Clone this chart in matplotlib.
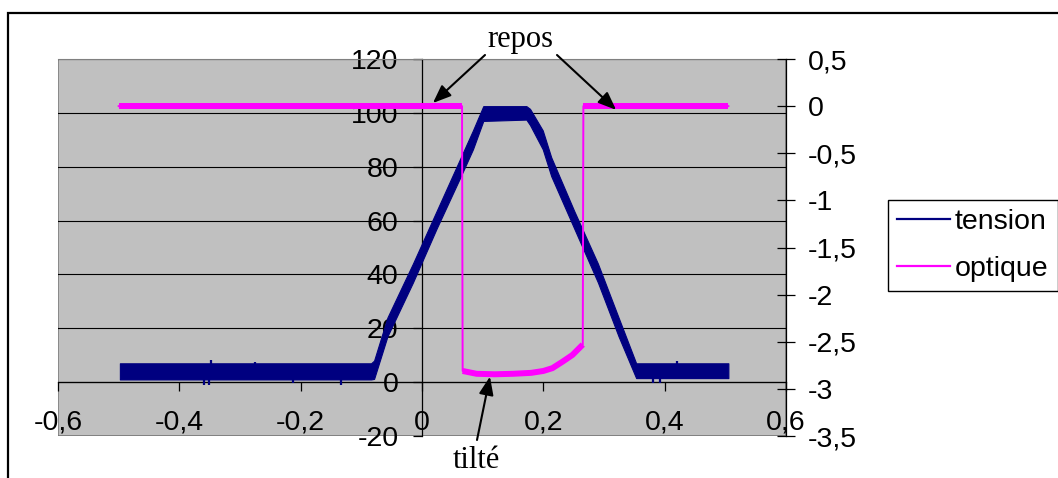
import matplotlib
matplotlib.use("Agg")
import matplotlib.pyplot as plt
from matplotlib.patches import Rectangle
from matplotlib.lines import Line2D

# ---------------- data ----------------
x_ticks = [-0.6, -0.4, -0.2, 0.0, 0.2, 0.4, 0.6]
x_tick_labels = ["-0,6", "-0,4", "-0,2", "0", "0,2", "0,4", "0,6"]
left_ticks = [-20, 0, 20, 40, 60, 80, 100, 120]
left_tick_labels = ["-20", "0", "20", "40", "60", "80", "100", "120"]
right_ticks = [-3.5, -3.0, -2.5, -2.0, -1.5, -1.0, -0.5, 0.0, 0.5]
right_tick_labels = ["-3,5", "-3", "-2,5", "-2", "-1,5", "-1", "-0,5", "0", "0,5"]

# tension (left axis): noisy band, given as lower / upper envelope
tension_x = [-0.498, -0.084, -0.079, -0.057, -0.015, 0.024, 0.064, 0.084, 0.101,
             0.172, 0.178, 0.199, 0.213, 0.251, 0.290, 0.324, 0.353, 0.505]
tension_lo = [1.0, 1.0, 1.2, 17.0, 37.0, 57.0, 76.5, 86.5, 97.0,
              97.5, 95.5, 86.5, 76.5, 57.0, 37.0, 17.0, 1.5, 1.5]
tension_hi = [7.0, 7.0, 8.0, 24.0, 44.0, 63.5, 83.5, 93.5, 102.5,
              102.5, 101.5, 93.5, 83.5, 63.5, 44.0, 24.0, 7.0, 7.0]
# isolated spikes of the tension signal
spike_x = [-0.359, -0.351, -0.348, -0.276, -0.213, -0.134, 0.381, 0.393, 0.420]
spike_lo = [-1.1, -1.1, 4.0, 4.0, -0.5, -1.1, -0.5, -0.5, 4.0]
spike_hi = [4.0, 4.0, 8.4, 7.4, 4.0, 4.0, 4.0, 4.0, 7.9]

# optique (right axis)
optique_x = [-0.5, 0.066, 0.067, 0.09, 0.12, 0.15, 0.18, 0.20, 0.215, 0.232,
             0.248, 0.265, 0.266, 0.505]
optique_y = [0.0, 0.0, -2.81, -2.84, -2.845, -2.84, -2.83, -2.81, -2.78, -2.71,
             -2.64, -2.53, 0.0, 0.0]

series_names = ["tension", "optique"]

# ---------------- style ----------------
NAVY = "#000080"
MAGENTA = "#FF00FF"
plt.rcParams["font.family"] = ["Liberation Sans", "DejaVu Sans"]
plt.rcParams["font.size"] = 20.5

W, H = 1058, 478
fig = plt.figure(figsize=(W / 100, H / 100), dpi=100)
fig.patch.set_facecolor("white")

L, R, T, B = 58, 786, 59, 436
ax = fig.add_axes([L / W, 1 - B / H, (R - L) / W, (B - T) / H])
ax.set_facecolor("#C0C0C0")
ax.set_xlim(-0.6, 0.6)
ax.set_ylim(-20, 120)

# axes crossing at zero
ax.spines["left"].set_position(("data", 0))
ax.spines["bottom"].set_position(("data", 0))
for s in ("left", "bottom"):
    ax.spines[s].set_color("black")
    ax.spines[s].set_linewidth(0.9)
ax.spines["top"].set_color("#808080")
ax.spines["right"].set_visible(False)
ax.add_patch(Rectangle((0, 0), 1, 1, transform=ax.transAxes, fill=False,
                       edgecolor="#808080", lw=1.2, zorder=0.5))

ax.set_xticks(x_ticks)
ax.set_xticklabels(x_tick_labels)
ax.set_yticks(left_ticks)
ax.set_yticklabels(left_tick_labels)
ax.tick_params(axis="x", direction="out", length=6.5, width=0.9, pad=13.5)
ax.tick_params(axis="y", direction="out", length=6.5, width=0.9, pad=10.5)
ax.yaxis.grid(True, color="black", lw=0.8)
ax.set_axisbelow(True)

ax.fill_between(tension_x, tension_lo, tension_hi, color=NAVY, lw=0.8,
                edgecolor=NAVY, zorder=3)
ax.vlines(spike_x, spike_lo, spike_hi, color=NAVY, lw=1.6, zorder=3)

ax2 = ax.twinx()
ax2.set_ylim(-3.5, 0.5)
for s in ("left", "top", "bottom"):
    ax2.spines[s].set_visible(False)
ax2.spines["right"].set_color("black")
ax2.spines["right"].set_linewidth(0.9)
ax2.set_yticks(right_ticks)
ax2.set_yticklabels(right_tick_labels)
ax2.tick_params(axis="y", direction="inout", length=13, width=0.9, pad=9.5)

ax2.plot(optique_x, optique_y, color=MAGENTA, lw=1.4, zorder=3)
ax2.plot(optique_x[0:2], optique_y[0:2], color=MAGENTA, lw=4.3,
         solid_capstyle="butt", zorder=3)
ax2.plot(optique_x[2:12], optique_y[2:12], color=MAGENTA, lw=4.3,
         solid_capstyle="butt", solid_joinstyle="round", zorder=3)
ax2.plot(optique_x[12:], optique_y[12:], color=MAGENTA, lw=4.3,
         solid_capstyle="butt", zorder=3)

# ---------------- annotations ----------------
aprops = dict(arrowstyle="-|>,head_length=0.55,head_width=0.22",
              color="black", lw=1.5, mutation_scale=20, shrinkA=0, shrinkB=0)
ax2.annotate("", xy=(0.018, 0.033), xycoords="data",
             xytext=(485, H - 55), textcoords="figure pixels",
             arrowprops=aprops, annotation_clip=False)
ax2.annotate("", xy=(0.320, -0.04), xycoords="data",
             xytext=(557, H - 55), textcoords="figure pixels",
             arrowprops=aprops, annotation_clip=False)
ax2.annotate("", xy=(0.112, -2.87), xycoords="data",
             xytext=(477, H - 440), textcoords="figure pixels",
             arrowprops=aprops, annotation_clip=False)
fig.text(520 / W, 1 - 46.7 / H, "repos", ha="center", va="baseline",
         family=["Liberation Serif", "DejaVu Serif"], size=22)
fig.text(476 / W, 1 - 468 / H, "tilté", ha="center", va="baseline",
         family=["Liberation Serif", "DejaVu Serif"], size=22)

# ---------------- legend ----------------
handles = [Line2D([], [], color=NAVY, lw=1.6), Line2D([], [], color=MAGENTA, lw=1.6)]
leg = fig.legend(handles, series_names, loc="upper left",
                 bbox_to_anchor=(888 / W, 1 - 200 / H), bbox_transform=fig.transFigure,
                 borderaxespad=0, borderpad=0.33, handlelength=1.85,
                 handletextpad=0.16, labelspacing=0.72, fancybox=False,
                 framealpha=1, edgecolor="black")
leg.get_frame().set_linewidth(1.0)

# ---------------- outer frame ----------------
fig.patches.append(Rectangle((8 / W, -0.1), 1.2, 1.1 - 13 / H,
                             transform=fig.transFigure, fill=False,
                             edgecolor="black", lw=1.6))

fig.savefig("out.png", dpi=100)
